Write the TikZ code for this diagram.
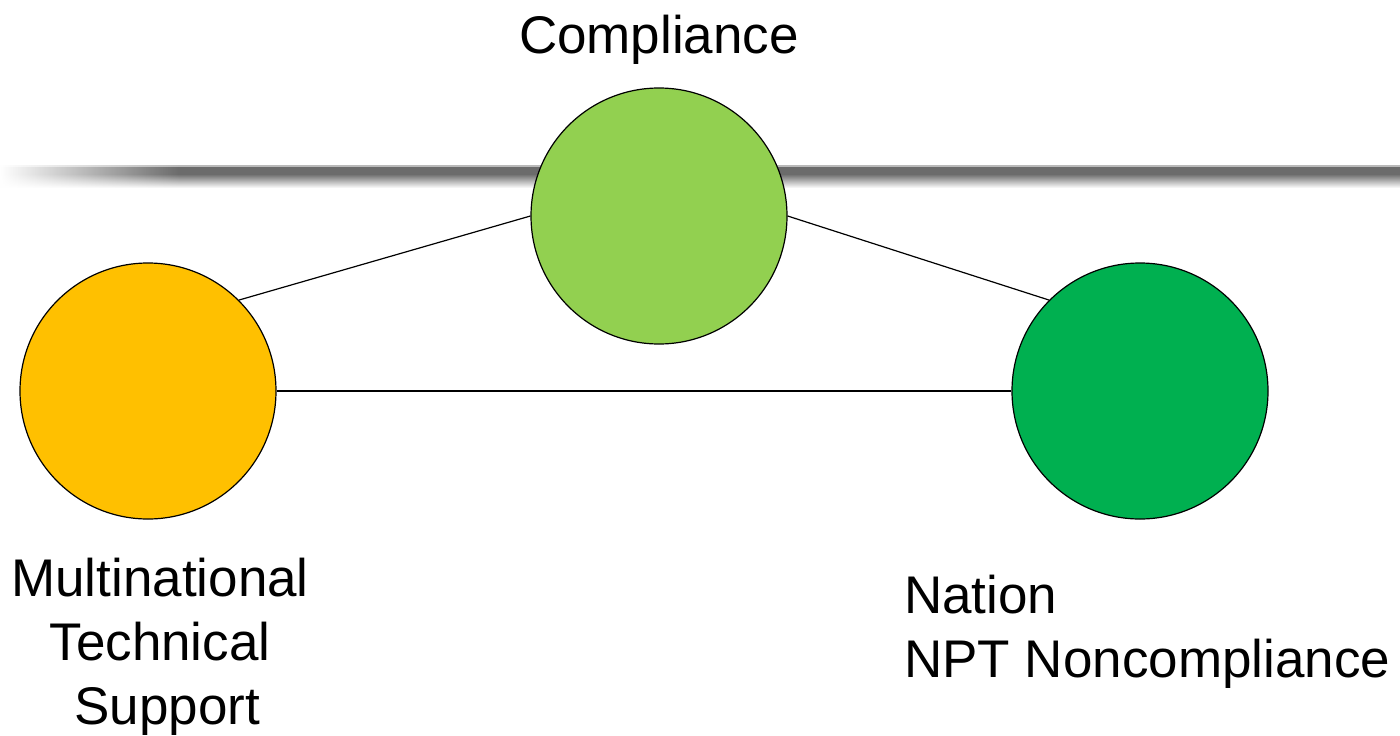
\documentclass[tikz,border=0pt]{standalone}
\usepackage{fontspec}
\setmainfont{Liberation Sans}
\usetikzlibrary{fadings}
\begin{document}
\begin{tikzpicture}[x=1pt,y=-1pt,
  bubble/.style={circle,draw=black,line width=1.2pt,minimum size=256pt,inner sep=0pt},
  link/.style={draw=black,line width=1.2pt},
  lbl/.style={font=\fontsize{53}{64}\selectfont,inner sep=0pt}]
\useasboundingbox (0,0) rectangle (1400,736);
\fill[white] (0,0) rectangle (1400,736);
% grey bar
\fill[gray!55] (0,165) rectangle (1400,167);
\shade[top color=black!58,bottom color=black!58] (0,167) rectangle (1400,174);
\shade[top color=black!58,bottom color=white] (0,174) rectangle (1400,188);
\fill[white,path fading=east] (0,160) rectangle (180,192);
% nodes
\node[bubble,fill={rgb,255:red,146;green,208;blue,80}] (comp) at (659,216) {};
\node[bubble,fill={rgb,255:red,255;green,192;blue,0}] (multi) at (148,391) {};
\node[bubble,fill={rgb,255:red,0;green,176;blue,80}] (nation) at (1140,391) {};
\draw[link] (comp.west) -- (multi.north east);
\draw[link] (comp.east) -- (nation.north west);
\draw[link] (multi.east) -- (nation.west);
% labels
\node[lbl,anchor=base] (tcomp) at (659,53) {Compliance};
\node[lbl,anchor=base,align=center] (tmulti) at (160,724) {Multinational\\Technical\\\ Support};
\node[lbl,anchor=base west,align=left] (tnation) at (904,677) {Nation\\NPT Noncompliance};
\end{tikzpicture}
\end{document}
